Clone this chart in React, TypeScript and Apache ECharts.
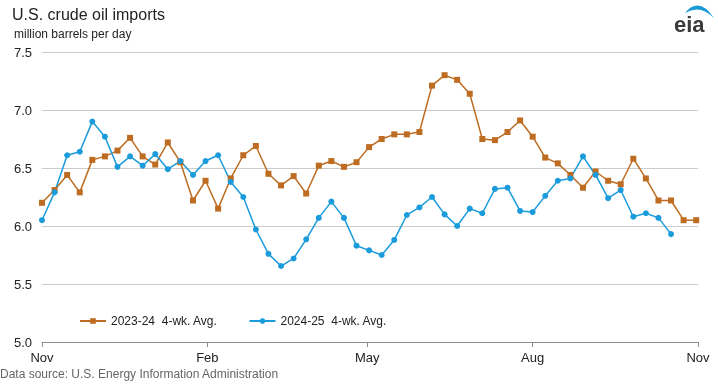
import React, { useEffect, useRef } from 'react';
import * as echarts from 'echarts';

// X axis: days since Nov 1 (seasonal year), month tick positions and labels
const tickDays = [0, 92, 181, 273, 365];
const tickLabels = ['Nov', 'Feb', 'May', 'Aug', 'Nov'];
const daysPerWeek = 7;

// Y axis range
const yMin = 5.0;
const yMax = 7.5;
const yStep = 0.5;

const seriesNames = ['2023-24  4-wk. Avg.', '2024-25  4-wk. Avg.'];

// 2023-24 weekly 4-week average (million barrels per day)
const values2324 = [
  6.20, 6.31, 6.44, 6.29, 6.57, 6.60, 6.65, 6.76, 6.60, 6.53,
  6.72, 6.55, 6.22, 6.39, 6.15, 6.41, 6.61, 6.69, 6.45, 6.35,
  6.43, 6.28, 6.52, 6.56, 6.51, 6.55, 6.68, 6.75, 6.79, 6.79,
  6.81, 7.21, 7.30, 7.26, 7.14, 6.75, 6.74, 6.81, 6.91, 6.77,
  6.59, 6.54, 6.44, 6.33, 6.47, 6.39, 6.36, 6.58, 6.41, 6.22,
  6.22, 6.05, 6.05,
];

// 2024-25 weekly 4-week average (million barrels per day)
const values2425 = [
  6.05, 6.29, 6.61, 6.64, 6.90, 6.77, 6.51, 6.60, 6.52, 6.62,
  6.49, 6.56, 6.44, 6.56, 6.61, 6.38, 6.25, 5.97, 5.76, 5.655,
  5.72, 5.885, 6.07, 6.21, 6.07, 5.83, 5.79, 5.75, 5.88, 6.095,
  6.16, 6.25, 6.10, 6.00, 6.15, 6.11, 6.32, 6.33, 6.13, 6.12,
  6.26, 6.39, 6.41, 6.60, 6.44, 6.24, 6.31, 6.08, 6.11, 6.07,
  5.93,
];

const ORANGE = '#BD6C21';
const BLUE = '#1A9BDB';
const FONT = 'Arial, "Liberation Sans", sans-serif';

echarts.graphic.registerShape(
  'eiaSwoosh',
  echarts.graphic.extendPath('M685 13 Q699 -4 714 18 Q700 4 685 13 Z', {})
);

const toPoints = (vals: number[]) => vals.map((v, i) => [i * daysPerWeek, v]);

export default function App() {
  const ref = useRef<HTMLDivElement>(null);
  useEffect(() => {
    const chart = echarts.init(ref.current!, null, { renderer: 'svg' });
    chart.setOption({
      animation: false,
      textStyle: { fontFamily: FONT },
      grid: { left: 42, right: 20, top: 52, bottom: 42, containLabel: false },
      xAxis: {
        type: 'value',
        min: tickDays[0],
        max: tickDays[tickDays.length - 1],
        splitLine: { show: false },
        axisLine: { show: true, lineStyle: { color: '#8c8c8c', width: 1 } },
        axisTick: {
          show: true,
          customValues: tickDays,
          length: 5,
          lineStyle: { color: '#8c8c8c' },
        },
        axisLabel: {
          customValues: tickDays,
          formatter: (v: number) => tickLabels[tickDays.indexOf(v)] ?? '',
          fontSize: 13,
          color: '#222',
          margin: 9,
          fontFamily: FONT,
        },
      },
      yAxis: {
        type: 'value',
        min: yMin,
        max: yMax,
        interval: yStep,
        axisLine: { show: false },
        axisTick: { show: false },
        splitLine: { show: true, lineStyle: { color: '#cccccc', width: 1 } },
        axisLabel: {
          formatter: (v: number) => v.toFixed(1),
          fontSize: 13,
          color: '#222',
          margin: 10,
          fontFamily: FONT,
        },
      },
      legend: {
        left: 79,
        top: 315,
        padding: 0,
        itemWidth: 26,
        itemHeight: 7,
        itemGap: 31,
        textStyle: { fontSize: 12, color: '#222', fontFamily: FONT },
        data: seriesNames,
      },
      series: [
        {
          name: seriesNames[0],
          type: 'line',
          data: toPoints(values2324),
          symbol: 'rect',
          symbolSize: 6,
          color: ORANGE,
          lineStyle: { color: ORANGE, width: 1.5 },
          itemStyle: { color: ORANGE },
        },
        {
          name: seriesNames[1],
          type: 'line',
          data: toPoints(values2425),
          symbol: 'circle',
          symbolSize: 6,
          color: BLUE,
          lineStyle: { color: BLUE, width: 1.5 },
          itemStyle: { color: BLUE },
        },
      ],
      graphic: [
        {
          type: 'text',
          left: 12,
          top: 6,
          style: { text: 'U.S. crude oil imports', fontSize: 16, fill: '#222', fontFamily: FONT },
        },
        {
          type: 'text',
          left: 14,
          top: 28,
          style: { text: 'million barrels per day', fontSize: 12, fill: '#222', fontFamily: FONT },
        },
        {
          type: 'text',
          left: 0,
          top: 368,
          style: {
            text: 'Data source: U.S. Energy Information Administration',
            fontSize: 12,
            fill: '#666',
            fontFamily: FONT,
          },
        },
        {
          type: 'eiaSwoosh',
          x: 0,
          y: 0,
          style: { fill: '#1A9AD6' },
        },
        {
          type: 'text',
          x: 674,
          y: 24,
          style: {
            text: 'eia',
            fontSize: 22,
            fontWeight: 'bold',
            fill: '#3a3a3a',
            fontFamily: FONT,
            textVerticalAlign: 'middle',
          },
        },
      ],
    });
    return () => chart.dispose();
  }, []);
  return <div ref={ref} style={{ position: 'fixed', left: 0, top: 0, width: 718, height: 384 }} />;
}
